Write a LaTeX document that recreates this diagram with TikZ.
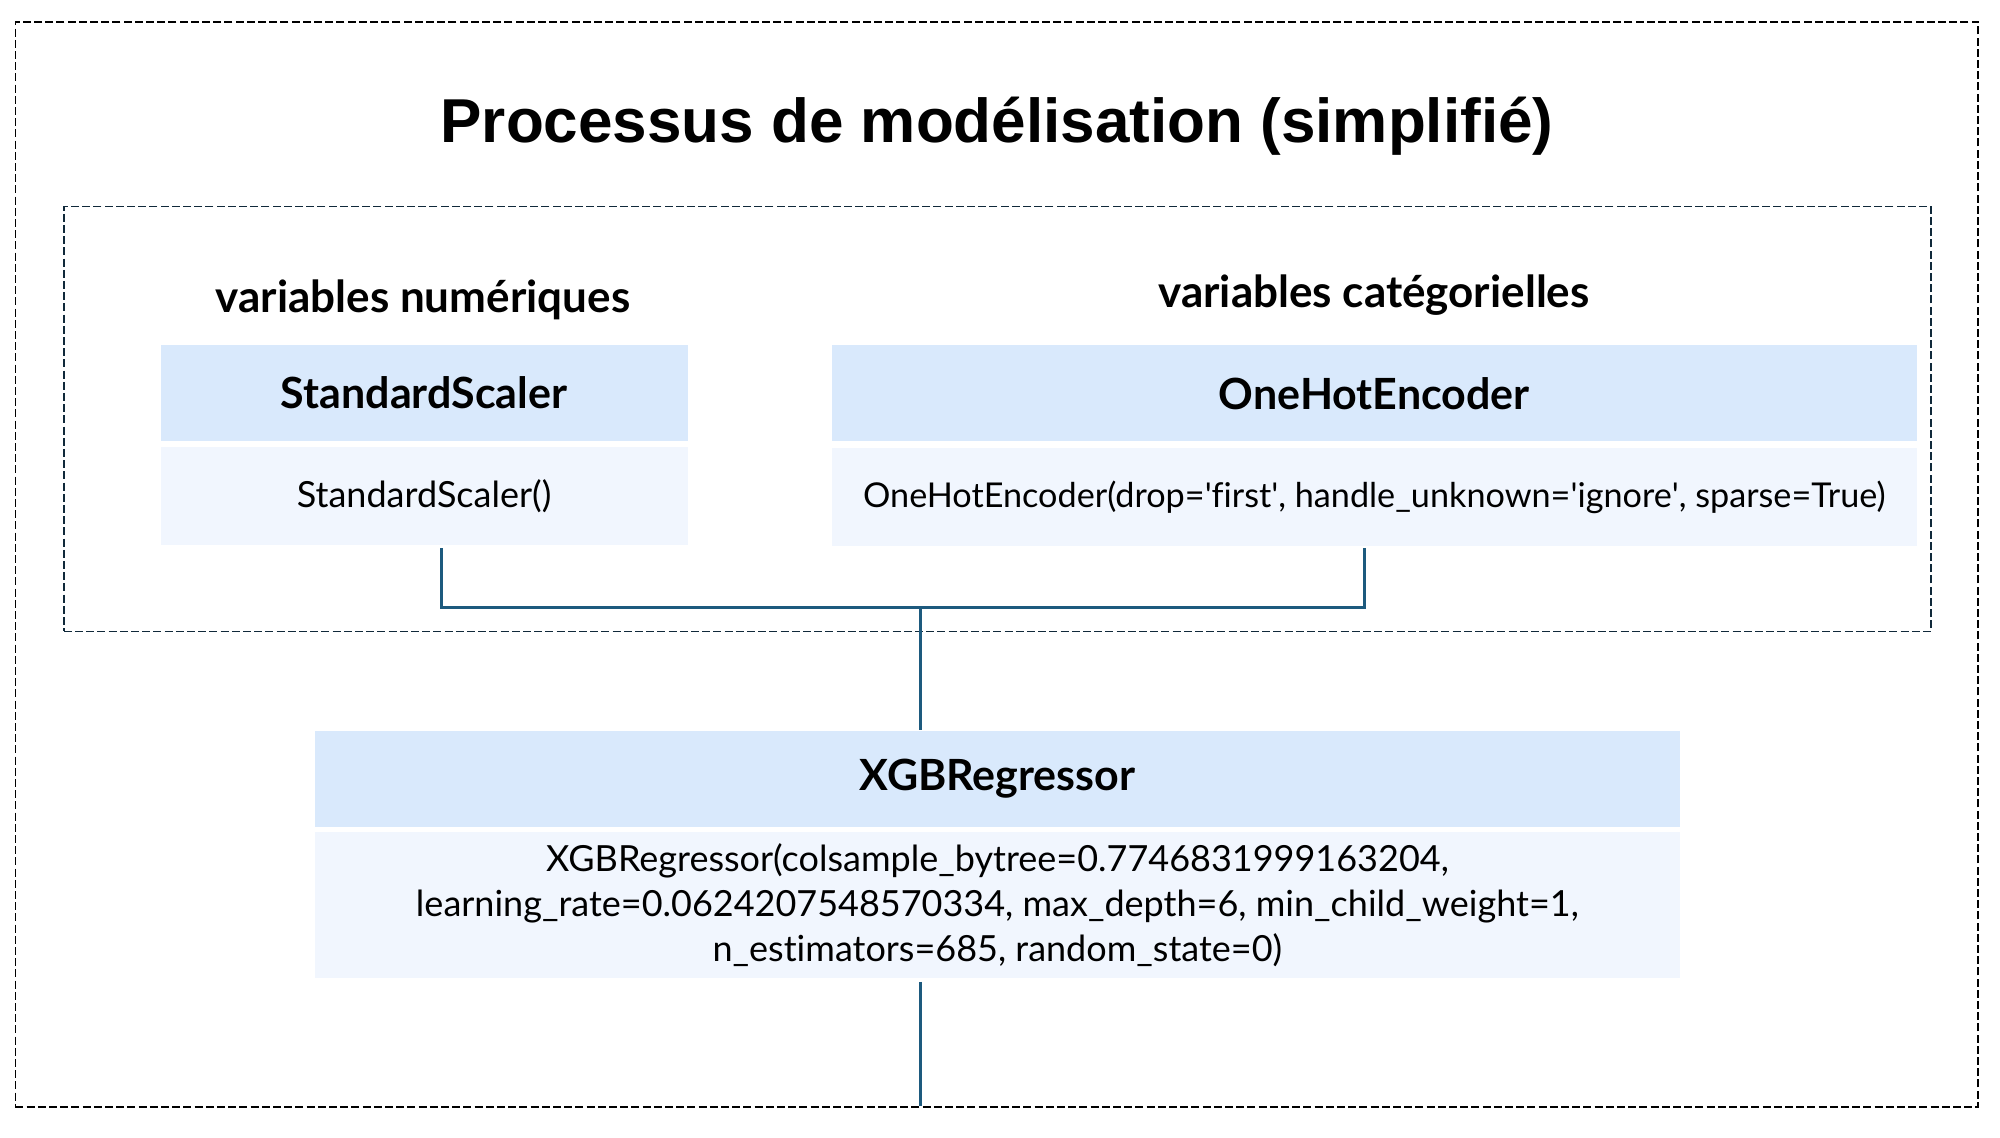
\documentclass[tikz,border=0pt]{standalone}
\usepackage{fontspec}
\setmainfont{Lato}[Ligatures={NoCommon}]
\newfontfamily\titlefont{Liberation Sans}[Ligatures={NoCommon}]
\usetikzlibrary{calc}
\definecolor{hdrfill}{HTML}{D9E9FC}
\definecolor{bodyfill}{HTML}{F1F6FE}
\definecolor{linkcol}{HTML}{1D5A7E}
\definecolor{innerdash}{HTML}{10293A}
\newcommand{\sq}{\textquotesingle}
\tikzset{
  hdr/.style={fill=hdrfill, inner sep=0pt, font=\fontsize{21.5}{25}\selectfont\bfseries, minimum height=48pt},
  bodybox/.style={fill=bodyfill, inner sep=0pt, font=\fontsize{18}{22.5}\selectfont, align=center},
  grouplabel/.style={font=\fontsize{22}{26}\selectfont\bfseries, inner sep=0pt},
  link/.style={draw=linkcol, line width=1.5pt},
  framebox/.style={draw, dashed, dash pattern=on 4pt off 1.6pt, line width=0.9pt, inner sep=0pt}
}
\begin{document}
\begin{tikzpicture}[x=0.5pt,y=-0.5pt]
\useasboundingbox (0,0) rectangle (2000,1138);
% frames
\node[framebox, minimum width=981.3pt, minimum height=542.7pt] (outer) at (996.7,564.4) {};
\node[framebox, draw=innerdash, minimum width=933.6pt, minimum height=212.4pt] (inner) at (997.4,419) {};
% title
\node[font=\titlefont\fontsize{31}{36}\selectfont\bfseries, inner sep=0pt] (title) at (997,126) {Processus de modélisation (simplifié)};
% group labels
\node[grouplabel] (numlab) at (423,300) {variables numériques};
\node[grouplabel] (catlab) at (1374,295) {variables catégorielles};
% StandardScaler
\node[hdr, minimum width=263.4pt] (ssh) at (424.1,393) {StandardScaler};
\node[bodybox, minimum width=263.4pt, minimum height=49pt] (ssb) at (424.1,496) {StandardScaler()};
% OneHotEncoder
\node[hdr, minimum width=542.7pt] (ohh) at (1374.3,393.5) {OneHotEncoder};
\node[bodybox, font=\fontsize{17.1}{22.5}\selectfont, minimum width=542.7pt, minimum height=49pt] (ohb) at (1374.3,497) {OneHotEncoder(drop=\sq first\sq, handle\_unknown=\sq ignore\sq, sparse=True)};
% XGBRegressor
\node[hdr, minimum width=682.4pt] (xgh) at (997.4,778.5) {XGBRegressor};
\node[bodybox, minimum width=682.4pt, minimum height=73.4pt] (xgb) at (997.4,905) {XGBRegressor(colsample\_bytree=0.7746831999163204,\\learning\_rate=0.0624207548570334, max\_depth=6, min\_child\_weight=1,\\n\_estimators=685, random\_state=0)};
% connectors
\coordinate (j) at (920,607);
\coordinate (ssout) at (441,548);
\coordinate (ohout) at (1364,548);
\draw[link] (ssout) |- (j) -| (ohout);
\draw[link] (j) -- (j |- xgh.north);
\draw[link] ([yshift=-1.5pt]j |- xgb.south) -- ([yshift=1pt]j |- outer.south);
\end{tikzpicture}
\end{document}
